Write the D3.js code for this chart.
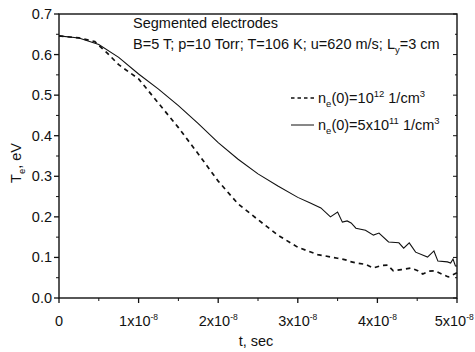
<!DOCTYPE html>
<html>
<head>
<meta charset="utf-8">
<script src="https://cdn.jsdelivr.net/npm/d3@7"></script>
<style>
  html, body { margin: 0; padding: 0; background: #fff; }
  svg { display: block; }
  text { font-family: "Liberation Sans", Arial, sans-serif; fill: #111; }
</style>
</head>
<body>
<svg id="chart" width="475" height="352"></svg>
<script>
// time in units of 1e-8 s
const tDashed = [0, 0.25, 0.45, 0.6, 0.75, 1.0, 1.25, 1.5, 1.75, 2.0, 2.25, 2.5, 2.75, 3.0, 3.25, 3.5, 3.6, 3.65, 3.75, 3.85, 3.95, 4.05, 4.13, 4.2, 4.3, 4.42, 4.5, 4.57, 4.65, 4.72, 4.8, 4.89, 5.0];
const teDashed = [0.646, 0.641, 0.632, 0.605, 0.575, 0.540, 0.480, 0.420, 0.355, 0.288, 0.232, 0.193, 0.155, 0.125, 0.107, 0.098, 0.094, 0.090, 0.086, 0.083, 0.074, 0.080, 0.081, 0.067, 0.070, 0.074, 0.068, 0.059, 0.066, 0.067, 0.060, 0.052, 0.062];

const tSolid = [0, 0.25, 0.5, 0.75, 1.0, 1.25, 1.5, 1.75, 2.0, 2.25, 2.5, 2.75, 3.0, 3.15, 3.29, 3.41, 3.50, 3.56, 3.62, 3.67, 3.73, 3.85, 3.95, 4.02, 4.14, 4.27, 4.33, 4.40, 4.48, 4.63, 4.71, 4.76, 4.88, 4.92, 4.95, 4.98, 5.0];
const teSolid = [0.646, 0.641, 0.625, 0.593, 0.552, 0.515, 0.474, 0.430, 0.383, 0.342, 0.306, 0.276, 0.248, 0.235, 0.222, 0.200, 0.212, 0.187, 0.190, 0.185, 0.172, 0.167, 0.155, 0.160, 0.138, 0.136, 0.123, 0.136, 0.113, 0.101, 0.116, 0.091, 0.089, 0.086, 0.096, 0.079, 0.079];

const xTicks = [0, 1, 2, 3, 4, 5];
const xTickMinor = [0.5, 1.5, 2.5, 3.5, 4.5];
const yTicks = [0.0, 0.1, 0.2, 0.3, 0.4, 0.5, 0.6, 0.7];
const yTickMinor = [0.05, 0.15, 0.25, 0.35, 0.45, 0.55, 0.65];

const legendLabels = [
  {style: "dashed", base: "(0)=10", sup: "12"},
  {style: "solid", base: "(0)=5x10", sup: "11"}
];

const svg = d3.select("#chart");
const W = 475;
const L = 59, R = 457, T = 14, B = 298;
const x = d3.scaleLinear().domain([0, 5]).range([L, R]);
const y = d3.scaleLinear().domain([0, 0.7]).range([B, T]);

const FS = 14.5;

// frame
svg.append("rect").attr("x", L).attr("y", T).attr("width", R - L).attr("height", B - T)
  .attr("fill", "none").attr("stroke", "#111").attr("stroke-width", 1.4);

// y axis ticks
const gy = svg.append("g");
yTicks.forEach(v => {
  gy.append("line").attr("x1", L - 5).attr("x2", L).attr("y1", y(v)).attr("y2", y(v)).attr("stroke", "#111").attr("stroke-width", 1.3);
  gy.append("line").attr("x1", R - 4).attr("x2", R).attr("y1", y(v)).attr("y2", y(v)).attr("stroke", "#111").attr("stroke-width", 1);
  gy.append("text").attr("x", L - 7).attr("y", y(v) + 5).attr("text-anchor", "end")
    .attr("font-size", FS).text(v.toFixed(1));
});
yTickMinor.forEach(v => {
  gy.append("line").attr("x1", L - 3).attr("x2", L).attr("y1", y(v)).attr("y2", y(v)).attr("stroke", "#111").attr("stroke-width", 1);
  gy.append("line").attr("x1", R - 2).attr("x2", R).attr("y1", y(v)).attr("y2", y(v)).attr("stroke", "#111").attr("stroke-width", 1);
});

// x axis ticks
const gx = svg.append("g");
xTicks.forEach(v => {
  gx.append("line").attr("x1", x(v)).attr("x2", x(v)).attr("y1", B).attr("y2", B + 5).attr("stroke", "#111").attr("stroke-width", 1.3);
  const t = gx.append("text").attr("x", x(v)).attr("y", 326).attr("text-anchor", "middle").attr("font-size", FS);
  if (v === 0) {
    t.text("0");
  } else {
    t.append("tspan").text(v + "x10");
    t.append("tspan").attr("dy", -6).attr("font-size", 8.5).text("-8");
  }
  // keep the last label inside the window
  const bb = t.node().getBBox();
  if (bb.x + bb.width > W - 1) {
    t.attr("x", x(v) - (bb.x + bb.width - (W - 1)));
  }
});
xTickMinor.forEach(v => {
  gx.append("line").attr("x1", x(v)).attr("x2", x(v)).attr("y1", B).attr("y2", B + 3).attr("stroke", "#111").attr("stroke-width", 1);
});

// axis titles
svg.append("text").attr("x", 256).attr("y", 346).attr("text-anchor", "middle").attr("font-size", FS).text("t, sec");
const yl = svg.append("text").attr("transform", "translate(21,163) rotate(-90)").attr("text-anchor", "middle").attr("font-size", FS);
yl.append("tspan").text("T");
yl.append("tspan").attr("dy", 4).attr("font-size", 9.5).text("e");
yl.append("tspan").attr("dy", -4).text(", eV");

// lines
const line = d3.line().x(d => x(d[0])).y(d => y(d[1]));
const dashedData = tDashed.map((t, i) => [t, teDashed[i]]);
const solidData = tSolid.map((t, i) => [t, teSolid[i]]);

svg.append("path").datum(solidData).attr("d", line).attr("fill", "none")
  .attr("stroke", "#111").attr("stroke-width", 1.1);
svg.append("path").datum(dashedData).attr("d", line).attr("fill", "none")
  .attr("stroke", "#111").attr("stroke-width", 1.7).attr("stroke-dasharray", "4.5,4");

// annotation
svg.append("text").attr("x", 133).attr("y", 28).attr("font-size", FS).text("Segmented electrodes");
const ann = svg.append("text").attr("x", 133).attr("y", 49).attr("font-size", FS);
ann.append("tspan").text("B=5 T; p=10 Torr; T=106 K; u=620 m/s; L");
ann.append("tspan").attr("dy", 4).attr("font-size", 9.5).text("y");
ann.append("tspan").attr("dy", -4).text("=3 cm");

// legend
legendLabels.forEach((d, i) => {
  const ly = 98 + i * 27;
  svg.append("line").attr("x1", 291).attr("x2", 314).attr("y1", ly).attr("y2", ly)
    .attr("stroke", "#111").attr("stroke-width", d.style === "dashed" ? 1.5 : 1)
    .attr("stroke-dasharray", d.style === "dashed" ? "3.5,3" : null);
  const t = svg.append("text").attr("x", 318).attr("y", ly + 5).attr("font-size", FS);
  t.append("tspan").text("n");
  t.append("tspan").attr("dy", 4).attr("font-size", 9.5).text("e");
  t.append("tspan").attr("dy", -4).text(d.base);
  t.append("tspan").attr("dy", -6).attr("font-size", 9.5).text(d.sup);
  t.append("tspan").attr("dy", 6).text(" 1/cm");
  t.append("tspan").attr("dy", -6).attr("font-size", 9.5).text("3");
});
</script>
</body>
</html>
